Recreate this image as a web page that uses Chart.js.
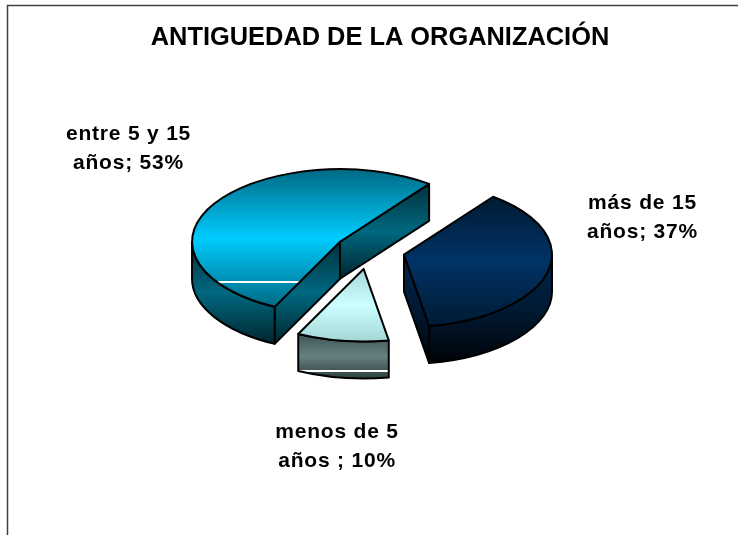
<!DOCTYPE html>
<html><head><meta charset="utf-8">
<style>html,body{margin:0;padding:0;background:#fff}canvas{display:block}</style>
<script src="https://cdn.jsdelivr.net/npm/chart.js@4"></script>
</head><body><canvas id="c" width="738" height="535"></canvas>
<script>
const titleText = 'ANTIGUEDAD DE LA ORGANIZACIÓN';
const categories = ['más de 15', 'menos de 5', 'entre 5 y 15'];
const unitTexts = ['años; ', 'años ; ', 'años; '];
const values = [37, 10, 53];
const explodeBy = [36, 38, 34];
const labelCentres = [[642.5, 203], [337, 432], [128.5, 134]];
const topColours = [
  ['#001a33','#003366','#001a33'],
  ['#a4d6d6','#ccffff','#a4d6d6'],
  ['#006a84','#00ccff','#006a84']
];
const sideColours = [
  ['#00264d','#001a33','#000308'],
  ['#3f5555','#668080','#2f4040'],
  ['#00313d','#006880','#00262f']
];
const whiteBands = [null, {part:'side', y:371}, {part:'top', y:282}];

const TILT = 0.49, DEPTH = 37, CX = 369, CY = 250.5;

function hex(c){return [1,3,5].map(i=>parseInt(c.substr(i,2),16));}
function lerp(a, b, f) {
  const t = (f - a[0]) / (b[0] - a[0]), x = hex(a[1]), y = hex(b[1]);
  return 'rgb(' + x.map((v,i)=>Math.round(v+(y[i]-v)*t)).join(',') + ')';
}
function gradient(ctx, u0, u1, cols, band, toU) {
  const g = ctx.createLinearGradient(0, u0, 0, u1);
  const n = cols.length - 1;
  const mix = cols.map((c, i) => [i / n, c]);
  if (band) {
    const f0 = (toU(band.y - .5) - u0) / (u1 - u0), f1 = (toU(band.y + .5) - u0) / (u1 - u0);
    const before = mix.filter(s => s[0] < f0), after = mix.filter(s => s[0] > f1);
    const a = before[before.length - 1], b = after[0];
    before.forEach(s => g.addColorStop(s[0], s[1]));
    g.addColorStop(Math.max(0, f0 - .001), lerp(a, b, f0));
    g.addColorStop(f0, '#fff'); g.addColorStop(f1, '#fff');
    g.addColorStop(Math.min(1, f1 + .001), lerp(a, b, f1));
    after.forEach(s => g.addColorStop(s[0], s[1]));
  } else mix.forEach(s => g.addColorStop(s[0], s[1]));
  return g;
}

const pie3d = {
  id: 'pie3d',
  beforeDraw(chart) {
    const ctx = chart.ctx;
    ctx.save();
    ctx.strokeStyle = '#404040'; ctx.lineWidth = 1.5;
    ctx.beginPath(); ctx.moveTo(7.5, 535); ctx.lineTo(7.5, 5.5); ctx.lineTo(738, 5.5); ctx.stroke();
    ctx.restore();
  },
  beforeDatasetDraw(chart, args) {
    const ctx = chart.ctx, meta = args.meta;
    meta.data.forEach((el, i) => {
      const R = el.outerRadius, s = el.startAngle, e = el.endAngle, mid = (s + e) / 2;
      const ax = CX + Math.cos(mid) * explodeBy[i], ay = CY + TILT * Math.sin(mid) * explodeBy[i];
      const px = t => ax + R * Math.cos(t), py = t => ay + R * TILT * Math.sin(t);
      const side = sideColours[i], band = whiteBands[i];
      const flat = (y0, y1, b) => gradient(ctx, y0, y1, side, b, y => y);
      ctx.save();
      ctx.lineWidth = 2; ctx.strokeStyle = '#000'; ctx.lineJoin = 'round';
      [[s, Math.sin(s - Math.PI/2)], [e, Math.sin(e + Math.PI/2)]].forEach(([t, n]) => {
        if (n <= 0) return;
        const y0 = Math.min(ay, py(t)), y1 = Math.max(ay, py(t)) + DEPTH;
        ctx.beginPath(); ctx.moveTo(ax, ay); ctx.lineTo(px(t), py(t));
        ctx.lineTo(px(t), py(t) + DEPTH); ctx.lineTo(ax, ay + DEPTH); ctx.closePath();
        ctx.fillStyle = flat(y0, y1); ctx.fill(); ctx.stroke();
      });
      for (let k = -1; k <= 1; k++) {
        const a = Math.max(s, k * 2 * Math.PI), b = Math.min(e, k * 2 * Math.PI + Math.PI);
        if (b <= a) continue;
        let y0 = Infinity, y1 = -Infinity;
        for (let j = 0; j <= 40; j++) { const y = py(a + (b - a) * j / 40); y0 = Math.min(y0, y); y1 = Math.max(y1, y); }
        y1 += DEPTH;
        ctx.beginPath();
        ctx.ellipse(ax, ay, R, R * TILT, 0, a, b);
        ctx.ellipse(ax, ay + DEPTH, R, R * TILT, 0, b, a, true);
        ctx.closePath();
        ctx.fillStyle = flat(y0, y1, band && band.part === 'side' ? band : null);
        ctx.fill(); ctx.stroke();
      }
      let yMin = ay, yMax = ay;
      for (let j = 0; j <= 60; j++) { const y = py(s + (e - s) * j / 60); yMin = Math.min(yMin, y); yMax = Math.max(yMax, y); }
      const toU = y => el.y + (y - ay) / TILT;
      ctx.save();
      ctx.translate(ax, ay); ctx.scale(1, TILT); ctx.translate(-el.x, -el.y);
      const fill = gradient(ctx, toU(yMin), toU(yMax), topColours[i], band && band.part === 'top' ? band : null, toU);
      const o = el.options;
      el.options = Object.create(o, { backgroundColor: { value: fill } });
      el.draw(ctx);
      el.options = o;
      ctx.restore();
      ctx.beginPath(); ctx.moveTo(ax, ay);
      ctx.ellipse(ax, ay, R, R * TILT, 0, s, e);
      ctx.closePath(); ctx.stroke();
      ctx.restore();
    });
    return false;
  },
  afterDraw(chart) {
    const ctx = chart.ctx;
    ctx.save();
    ctx.fillStyle = '#000'; ctx.textAlign = 'center'; ctx.textBaseline = 'middle';
    ctx.font = 'bold 21px "Liberation Sans"';
    ctx.letterSpacing = '0.8px';
    categories.forEach((c, i) => {
      const [x, y] = labelCentres[i];
      ctx.fillText(c, x, y);
      ctx.fillText(unitTexts[i] + values[i] + '%', x, y + 29);
    });
    ctx.restore();
  }
};

new Chart(document.getElementById('c'), {
  type: 'pie',
  data: { labels: categories, datasets: [{ data: values, borderWidth: 0, backgroundColor: '#000' }] },
  options: {
    responsive: false, animation: false, events: [],
    rotation: 37, radius: 148,
    layout: { padding: { left: 22 } },
    plugins: {
      legend: { display: false }, tooltip: { enabled: false },
      title: { display: true, text: titleText, color: '#000', padding: { top: 23, bottom: 10 },
        font: { family: '"Liberation Sans"', size: 25.4, weight: 'bold' } }
    }
  },
  plugins: [pie3d]
});
</script></body></html>
